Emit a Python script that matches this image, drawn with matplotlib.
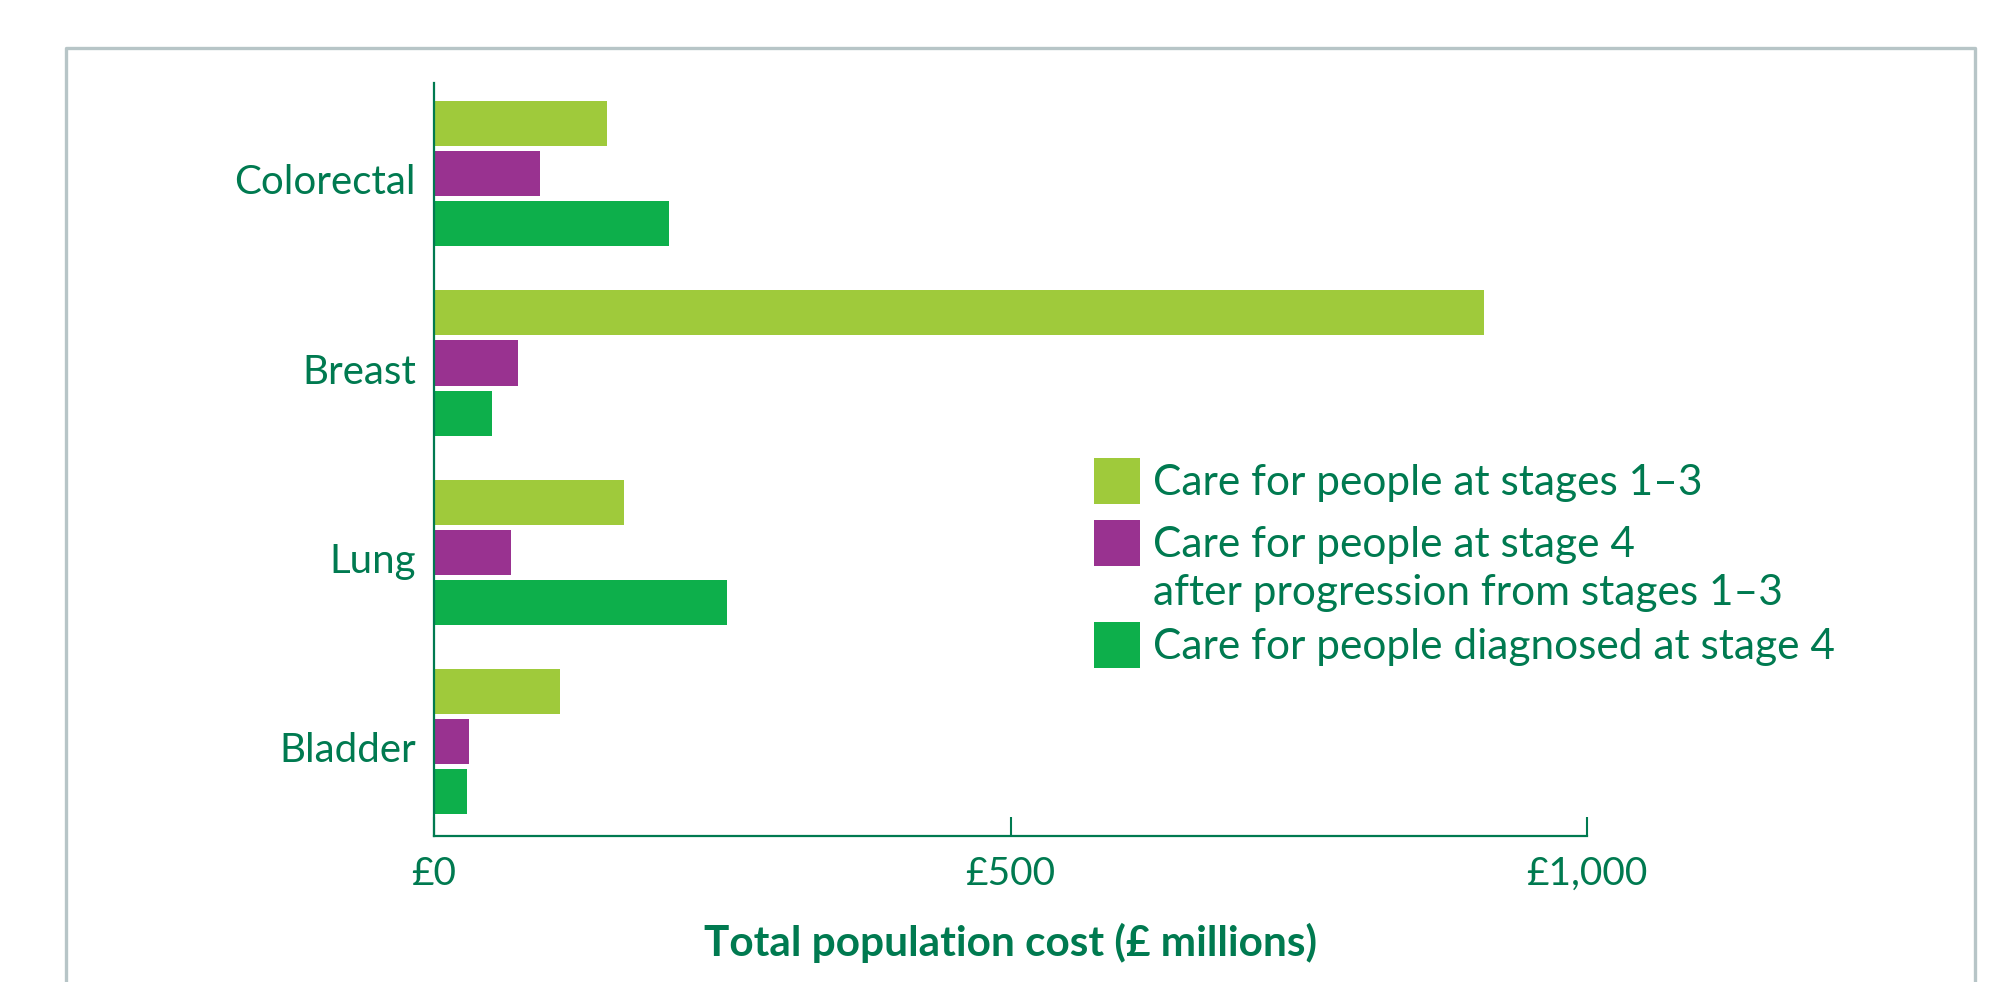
import matplotlib.pyplot as plt
from matplotlib.lines import Line2D
from matplotlib.patches import Rectangle
import numpy as np

# Data (£ millions)
cancers      = ['Colorectal', 'Breast', 'Lung', 'Bladder']
stages_1_3   = [150, 911, 165, 109]
stage4_prog  = [92, 73, 67, 30]
stage4_diag  = [204, 50, 254, 29]

series_labels = ['Care for people at stages 1\u20133',
                 'Care for people at stage 4\nafter progression from stages 1\u20133',
                 'Care for people diagnosed at stage 4']
series_colors = ['#9fca3b', '#993290', '#0daf4b']
x_ticks       = [0, 500, 1000]
x_ticklabels  = ['\u00a30', '\u00a3500', '\u00a31,000']

text_col = '#007a50'
W, H = 2013, 982

plt.rcParams['font.family'] = ['Lato', 'DejaVu Sans']

fig = plt.figure(figsize=(W / 100, H / 100), dpi=100)
ax = fig.add_axes([434 / W, 1 - 836 / H, (1587 - 434) / W, (836 - 83) / H])

y = np.arange(len(cancers))
step = 0.265
height = 0.238
for k, vals in enumerate([stages_1_3, stage4_prog, stage4_diag]):
    ax.barh(y + (k - 1) * step, vals, height=height, color=series_colors[k],
            linewidth=0)

ax.set_xlim(0, 1000)
ax.set_ylim(3.5, -0.48)
ax.set_yticks(y + 0.03)
ax.set_yticklabels(cancers, fontsize=29, color=text_col)
ax.tick_params(axis='y', length=0, pad=13)
ax.set_xticks(x_ticks)
ax.set_xticklabels(x_ticklabels, fontsize=28, color=text_col)
ax.tick_params(axis='x', direction='in', length=14, width=1.5,
               color=text_col, pad=-2)
for t in ax.get_xticklabels():
    t.set_y(-0.03)

for s in ['top', 'right']:
    ax.spines[s].set_visible(False)
for s in ['left', 'bottom']:
    ax.spines[s].set_color(text_col)
    ax.spines[s].set_linewidth(1.6)

ax.set_xlabel('Total population cost (\u00a3 millions)', fontsize=30.5,
              fontweight='bold', color=text_col)
ax.xaxis.set_label_coords(0.5, -0.142)
ax.xaxis.label.set_va('center')

# legend drawn by hand so the two-line entry keeps its box on the first line
sq_top = [458, 520, 622]
leg_size = 30.5
for k in range(3):
    fig.patches.append(Rectangle((1094 / W, 1 - (sq_top[k] + 46) / H), 46 / W, 46 / H,
                                 transform=fig.transFigure, color=series_colors[k],
                                 linewidth=0))
    lines = series_labels[k].split('\n')
    for j, line in enumerate(lines):
        fig.text(1153 / W, 1 - (sq_top[k] + 25 + 48 * j) / H, line,
                 fontsize=leg_size, color=text_col, va='center', ha='left')

# grey panel frame, open at the bottom
frame_x = [66 / W, 66 / W, 1975 / W, 1975 / W]
frame_y = [0, 1 - 48 / H, 1 - 48 / H, 0]
fig.lines.append(Line2D(frame_x, frame_y, transform=fig.transFigure,
                        color='#b7c5c7', linewidth=2.4))

fig.savefig('out.png', dpi=100)
